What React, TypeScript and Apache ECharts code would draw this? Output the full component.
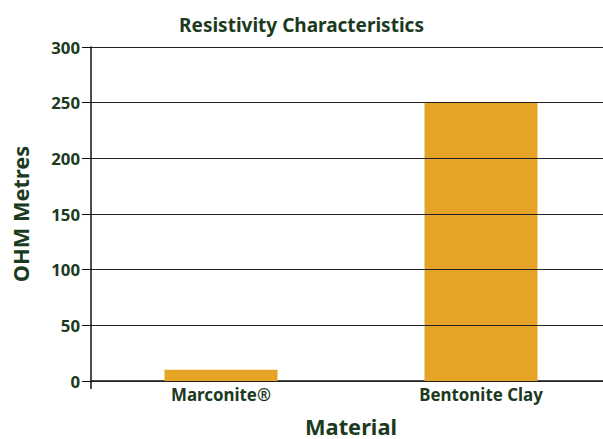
import React, { useEffect, useRef } from "react";
import * as echarts from "echarts";

const categories = ["Marconite®", "Bentonite Clay"];
const resistivity = [10, 250];
const titleText = "Resistivity Characteristics";
const yName = "OHM Metres";
const xName = "Material";

const GREEN = "#1b3a20";
const FONT = "'Noto Sans', sans-serif";

export default function App() {
  const ref = useRef<HTMLDivElement>(null);
  useEffect(() => {
    document.body.style.margin = "0";
    const chart = echarts.init(ref.current!, null, { renderer: "svg" });
    chart.setOption({
      animation: false,
      backgroundColor: "#ffffff",
      title: {
        text: titleText,
        left: "center",
        top: 10,
        textStyle: { fontFamily: FONT, fontWeight: "bold", fontSize: 19, color: GREEN },
      },
      grid: { left: 91, right: -8, top: 47, bottom: 58, containLabel: false, outerBoundsMode: "none" },
      xAxis: {
        type: "category",
        data: categories,
        name: xName,
        nameLocation: "middle",
        nameGap: 34,
        nameTextStyle: { fontFamily: FONT, fontWeight: "bold", fontSize: 21.8, color: GREEN },
        axisLine: { show: true, lineStyle: { color: "#111", width: 1.5 } },
        axisTick: {
          show: true,
          length: 8,
          interval: (i: number) => i === 0,
          lineStyle: { color: "#111", width: 1.5 },
        },
        axisLabel: {
          fontFamily: FONT,
          fontWeight: "bold",
          fontSize: 16.9,
          color: GREEN,
          margin: 5,
        },
      },
      yAxis: {
        type: "value",
        min: 0,
        max: 300,
        interval: 50,
        z: 10,
        name: yName,
        nameLocation: "middle",
        nameGap: 60,
        nameRotate: 90,
        nameTextStyle: { fontFamily: FONT, fontWeight: "bold", fontSize: 21.8, color: GREEN },
        axisLine: { show: true, lineStyle: { color: "#111", width: 1.5 } },
        axisTick: { show: true, length: 9, lineStyle: { color: "#111", width: 1 } },
        axisLabel: {
          fontFamily: FONT,
          fontWeight: "bold",
          fontSize: 16.8,
          color: GREEN,
          margin: 11,
        },
        splitLine: { show: true, lineStyle: { color: "#222", width: 1 } },
      },
      series: [
        {
          type: "bar",
          data: resistivity,
          barWidth: 113,
          itemStyle: { color: "#E5A425" },
          z: 1,
        },
      ],
    });
    return () => chart.dispose();
  }, []);
  return <div ref={ref} style={{ width: 603, height: 439 }} />;
}
